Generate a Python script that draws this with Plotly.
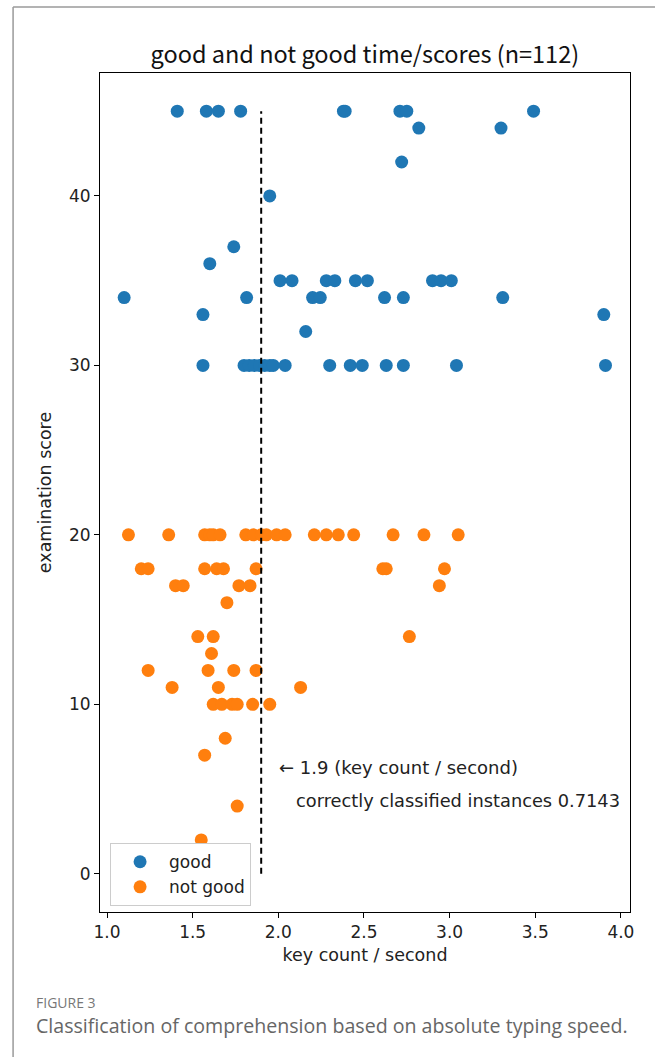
import plotly.graph_objects as go

# ---- data ----
good_x = [1.41, 1.58, 1.65, 1.78, 2.38, 2.39, 2.71, 2.75, 3.49,
          2.82, 3.30,
          2.72,
          1.95,
          1.74,
          1.60,
          2.01, 2.08, 2.28, 2.33, 2.45, 2.52, 2.90, 2.95, 3.01,
          1.10, 1.815, 2.20, 2.245, 2.62, 2.73, 3.31,
          1.56, 3.90,
          2.16,
          1.56, 1.80, 1.83, 1.86, 1.89, 1.92, 1.95, 1.97, 2.04, 2.30, 2.42, 2.49, 2.63, 2.73, 3.04, 3.91]
good_y = [45, 45, 45, 45, 45, 45, 45, 45, 45,
          44, 44,
          42,
          40,
          37,
          36,
          35, 35, 35, 35, 35, 35, 35, 35, 35,
          34, 34, 34, 34, 34, 34, 34,
          33, 33,
          32,
          30, 30, 30, 30, 30, 30, 30, 30, 30, 30, 30, 30, 30, 30, 30, 30]

notgood_x = [1.125, 1.36, 1.57, 1.60, 1.62, 1.66, 1.81, 1.855, 1.90, 1.93, 1.99, 2.04,
             2.21, 2.28, 2.35, 2.44, 2.67, 2.85, 3.05,
             1.20, 1.24, 1.57, 1.64, 1.68, 1.87, 2.61, 2.63, 2.97,
             1.40, 1.445, 1.77, 1.835, 2.94,
             1.70,
             1.53, 1.62, 2.765,
             1.61,
             1.24, 1.59, 1.74, 1.87,
             1.38, 1.65, 2.13,
             1.62, 1.67, 1.73, 1.76, 1.85, 1.95,
             1.69,
             1.57,
             1.76,
             1.55]
notgood_y = [20, 20, 20, 20, 20, 20, 20, 20, 20, 20, 20, 20,
             20, 20, 20, 20, 20, 20, 20,
             18, 18, 18, 18, 18, 18, 18, 18, 18,
             17, 17, 17, 17, 17,
             16,
             14, 14, 14,
             13,
             12, 12, 12, 12,
             11, 11, 11,
             10, 10, 10, 10, 10, 10,
             8,
             7,
             4,
             2]

threshold = 1.9
line_top = 45
accuracy = 0.7143
x_ticks = [1.0, 1.5, 2.0, 2.5, 3.0, 3.5, 4.0]
y_ticks = [0, 10, 20, 30, 40]

FONT = "DejaVu Sans, sans-serif"
TFONT = "Noto Sans CJK JP, Noto Sans, sans-serif"
CAPFONT = "Open Sans, sans-serif"

fig = go.Figure()
fig.add_trace(go.Scatter(x=good_x, y=good_y, mode="markers", name="good",
                         marker=dict(color="#1f77b4", size=13, line=dict(width=0))))
fig.add_trace(go.Scatter(x=notgood_x, y=notgood_y, mode="markers", name="not good",
                         marker=dict(color="#ff7f0e", size=13, line=dict(width=0))))

# threshold dashed line
fig.add_trace(go.Scatter(x=[threshold, threshold], y=[0, line_top], mode="lines",
                         line=dict(color="black", width=2, dash="6px,4px"),
                         showlegend=False, hoverinfo="skip"))

fig.add_annotation(x=1.995, y=6.3, xref="x", yref="y", text="← 1.9 (key count / second)",
                   showarrow=False, xanchor="left", yanchor="middle",
                   font=dict(family=FONT, size=18, color="#222"))
fig.add_annotation(x=2.09, y=4.3, xref="x", yref="y",
                   text=f"correctly classified instances {accuracy}",
                   showarrow=False, xanchor="left", yanchor="middle",
                   font=dict(family=FONT, size=17.8, color="#222"))

# caption
fig.add_annotation(x=-0.1245, y=-0.1073, xref="paper", yref="paper", text="FIGURE 3",
                   showarrow=False, xanchor="left", yanchor="middle",
                   font=dict(family=CAPFONT, size=14, color="#777"))
fig.add_annotation(x=-0.1245, y=-0.1347, xref="paper", yref="paper",
                   text="Classification of comprehension based on absolute typing speed.",
                   showarrow=False, xanchor="left", yanchor="middle",
                   font=dict(family=CAPFONT, size=19.6, color="#666"))

# outer article frame
fig.add_shape(type="line", xref="paper", yref="paper", x0=-0.164, x1=1.05, y0=1.0787, y1=1.0787,
              line=dict(color="#9a9a9a", width=1.5))
fig.add_shape(type="line", xref="paper", yref="paper", x0=-0.164, x1=-0.164, y0=1.0787, y1=-0.18,
              line=dict(color="#9a9a9a", width=1.5))

fig.update_layout(
    width=655, height=1057,
    margin=dict(l=100, r=25, t=73, b=145),
    paper_bgcolor="white", plot_bgcolor="white",
    title=dict(text="good and not good time/scores (n=112)", x=0.557, xanchor="center",
               y=0.948, yanchor="middle",
               font=dict(family=TFONT, size=23.5, color="#111")),
    font=dict(family=FONT, color="#222"),
    legend=dict(x=0.019, y=0.082, xanchor="left", yanchor="top",
                bgcolor="white", bordercolor="#cccccc", borderwidth=1,
                font=dict(family=FONT, size=17, color="#222"),
                itemwidth=48, tracegroupgap=0),
    showlegend=True,
)
fig.update_xaxes(range=[0.959, 4.053], tickvals=x_ticks, ticktext=[f"{v:.1f}" for v in x_ticks],
                 showgrid=False, zeroline=False, showline=True, linecolor="black", linewidth=1,
                 mirror=True, ticks="outside", ticklen=5, tickcolor="black",
                 tickfont=dict(family=FONT, size=17, color="#222"),
                 title=dict(text="key count / second", font=dict(family=FONT, size=17.5, color="#222"),
                            standoff=7))
fig.update_yaxes(range=[-2.25, 47.25], tickvals=y_ticks,
                 showgrid=False, zeroline=False, showline=True, linecolor="black", linewidth=1,
                 mirror=True, ticks="outside", ticklen=5, tickcolor="black",
                 tickfont=dict(family=FONT, size=17, color="#222"),
                 title=dict(text="examination score", font=dict(family=FONT, size=17.5, color="#222"),
                            standoff=12))

fig.write_html("out.html", post_script="document.body.style.margin='0';",
               config={"displayModeBar": False})
